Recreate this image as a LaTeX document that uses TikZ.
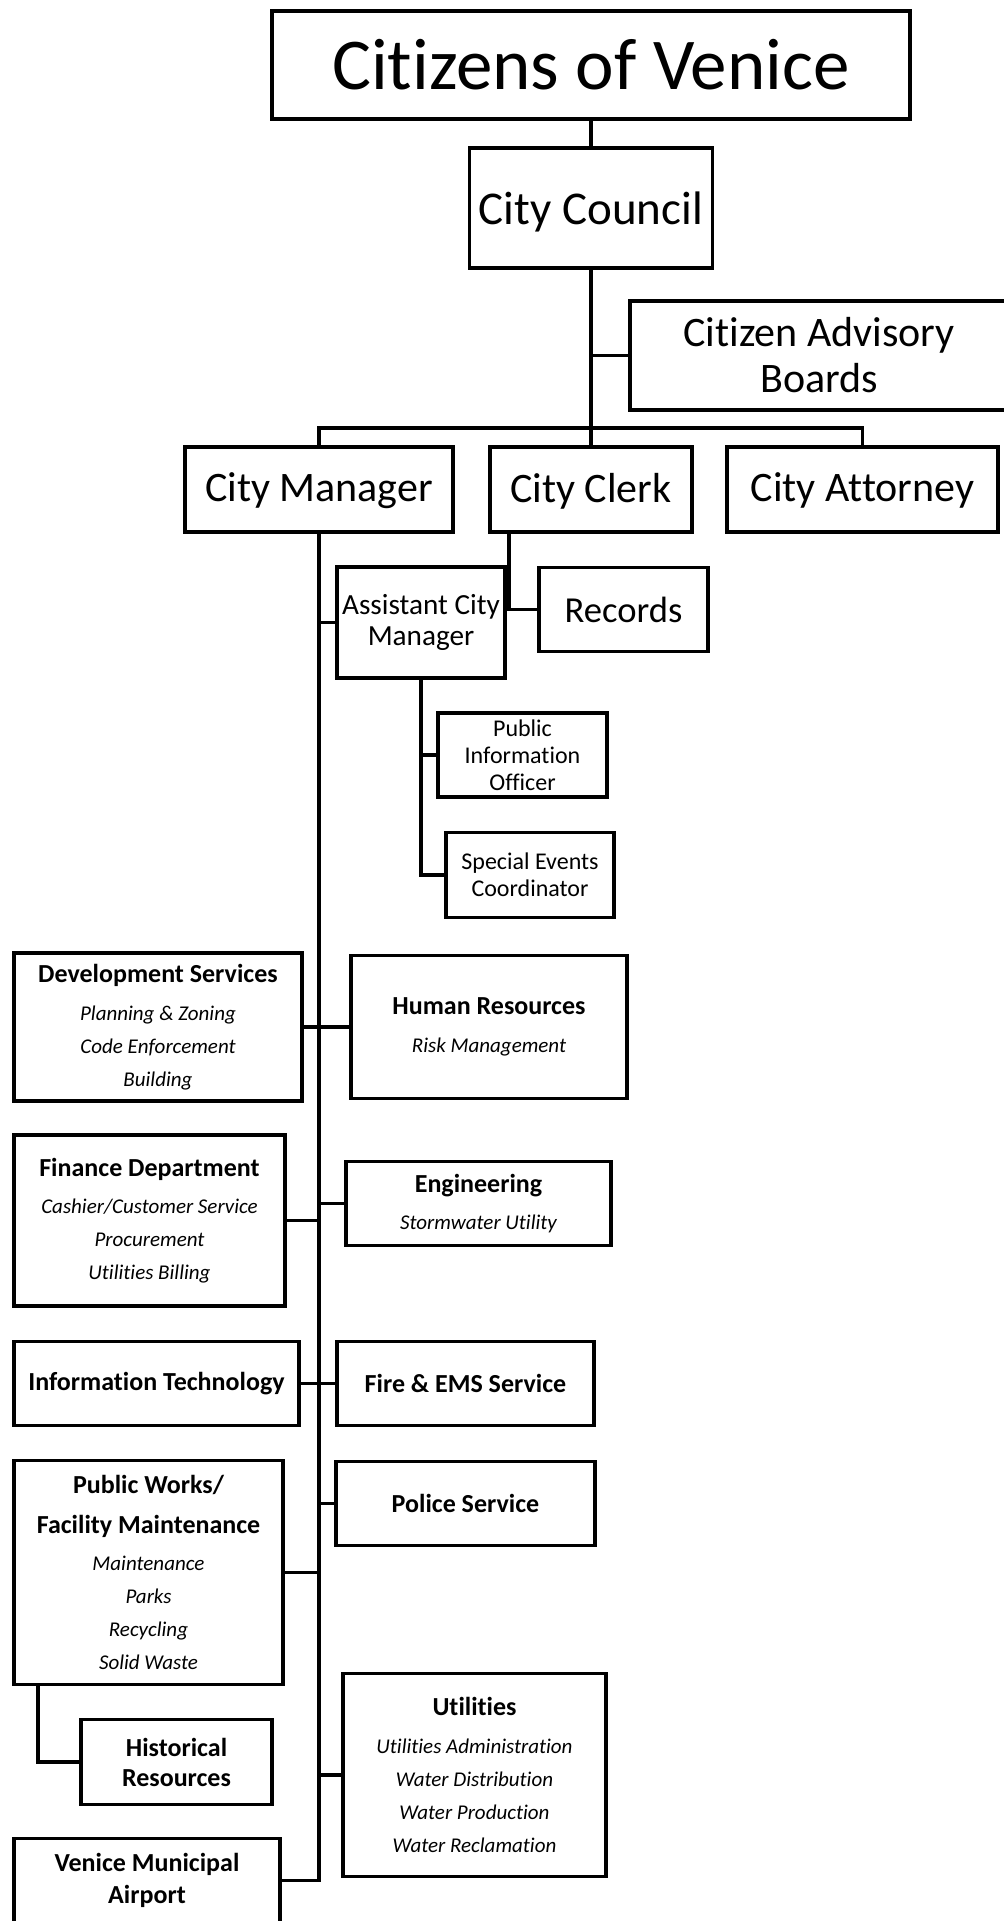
\documentclass[tikz,border=0pt]{standalone}
\usepackage{fontspec}
\setmainfont{Carlito}[Ligatures={NoCommon}]
\usetikzlibrary{positioning}
\tikzstyle{link} = [line width=1.8pt]
\tikzstyle{office} = [
    rectangle, draw=black, line width=1.8pt, align=center, inner sep=0pt
]
\tikzstyle{office_L} = [office, font=\fontsize{21}{23}\selectfont]
\tikzstyle{office_S} = [office, font=\fontsize{12}{13.4}\selectfont]
\tikzstyle{dept} = [office, font=\fontsize{13}{16.5}\selectfont\bfseries]
\newcommand{\unititem}[1]{{\fontsize{10.5}{16.5}\selectfont\mdseries\itshape #1}}

\begin{document}
\begin{tikzpicture}[node distance=60pt]
\useasboundingbox (0,0) rectangle (501.5pt,-960.5pt);

% Topo do organograma
\node (cov) [office, minimum width=319pt, minimum height=54pt, font=\fontsize{36.5}{40}\selectfont] at (295.5pt,-32.5pt) {Citizens of Venice};
\node (cc) [office, below of=cov, yshift=-11.5pt, minimum width=121.5pt, minimum height=60pt, text depth=0pt, font=\fontsize{23.5}{26}\selectfont] {City Council};
\node (cab) [office_L, below of=cc, xshift=114pt, yshift=-13.75pt, minimum width=189pt, minimum height=54.5pt] {Citizen Advisory\\Boards};
\node (clerk) [office_L, below of=cc, yshift=-80.75pt, minimum width=101pt, minimum height=42.5pt, text depth=2pt] {City Clerk};
\node (cm) [office_L, left of=clerk, xshift=-76pt, minimum width=134pt, minimum height=42.5pt, text depth=2pt] {City Manager};
\node (att) [office_L, right of=clerk, xshift=75.75pt, minimum width=135.5pt, minimum height=42.5pt, text depth=2pt] {City Attorney};

% Gerente e secretaria
\node (acm) [office, below of=cm, xshift=51pt, yshift=-6.5pt, minimum width=84pt, minimum height=55.5pt, font=\fontsize{14.6}{15.7}\selectfont] {Assistant City\\Manager};
\node (rec) [office, below of=clerk, xshift=16.25pt, minimum width=84.5pt, minimum height=42pt, font=\fontsize{18.3}{20}\selectfont] {Records};
\node (pio) [office_S, below of=acm, xshift=50.75pt, yshift=-6.25pt, minimum width=84.5pt, minimum height=42pt] {Public\\Information\\Officer};
\node (sec) [office_S, below of=pio, xshift=3.75pt, minimum width=84pt, minimum height=42.5pt] {Special Events\\Coordinator};

% Departamentos
\node (hr) [dept, below of=sec, xshift=-20.5pt, yshift=-16pt, minimum width=138pt, minimum height=71.5pt] {Human Resources\\[2.25pt]\unititem{Risk Management}};
\node (dev) [dept, left of=hr, xshift=-105.5pt, minimum width=144pt, minimum height=74pt] {Development Services\\[2.25pt]\unititem{Planning \& Zoning}\\\unititem{Code Enforcement}\\\unititem{Building}};
\node (eng) [dept, below of=hr, xshift=-5.25pt, yshift=-28.25pt, minimum width=132.5pt, minimum height=42pt] {Engineering\\[2pt]\unititem{Stormwater Utility}};
\node (fin) [dept, below of=dev, xshift=-4.25pt, yshift=-36.75pt, minimum width=135.5pt, minimum height=85.5pt] {Finance Department\\[2.25pt]\unititem{Cashier/Customer Service}\\\unititem{Procurement}\\\unititem{Utilities Billing}};
\node (fire) [dept, below of=eng, xshift=-6.5pt, yshift=-30pt, minimum width=128.5pt, minimum height=42pt] {Fire \& EMS Service};
\node (it) [dept, left of=fire, xshift=-94.5pt, minimum width=142.5pt, minimum height=42pt] {Information Technology};
\node (pol) [dept, below of=fire, minimum width=129.5pt, minimum height=42pt] {Police Service};
\node (pw) [dept, below of=it, xshift=-4pt, yshift=-34.5pt, minimum width=134.5pt, minimum height=112pt] {Public Works/\\[3.5pt]Facility Maintenance\\[2.25pt]\unititem{Maintenance}\\\unititem{Parks}\\\unititem{Recycling}\\\unititem{Solid Waste}};
\node (util) [dept, below of=pol, xshift=4.5pt, yshift=-75.75pt, minimum width=131.5pt, minimum height=101.5pt] {Utilities\\[2.25pt]\unititem{Utilities Administration}\\\unititem{Water Distribution}\\\unititem{Water Production}\\\unititem{Water Reclamation}};
\node (hist) [dept, below of=pw, xshift=14pt, yshift=-34.75pt, minimum width=95.5pt, minimum height=42.5pt] {Historical\\[-1.5pt]Resources};
\node (vma) [dept, below of=hist, xshift=-14.75pt, yshift=0.75pt, minimum width=133pt, minimum height=42pt] {Venice Municipal\\[-0.5pt]Airport};

% Ligacoes do topo
\coordinate (bus) at ([yshift=8.5pt]clerk.north);
\draw [link] (cov) -- (cc);
\draw [link] (cc) -- (bus);
\draw [link] (cab) -- (cab.west -| cc.south);
\draw [link] (cm.north) |- (bus) -| (att.north);
\draw [link] (bus) -- (clerk);
\draw [link] ([xshift=10.5pt]clerk.south west) |- (rec.west);

% Tronco do gerente
\draw [link] (cm.south) -- (cm.south |- vma.east) -- (vma.east);
\draw [link] (acm) -- (acm -| cm.south);
\draw [link] (acm.south) |- (sec.west);
\draw [link] (pio) -- (pio -| acm.south);
\draw [link] (dev) -- (hr);
\draw [link] (fin) -- (fin -| cm.south);
\draw [link] (eng) -- (eng -| cm.south);
\draw [link] (it) -- (fire);
\draw [link] (pol) -- (pol -| cm.south);
\draw [link] (pw) -- (pw -| cm.south);
\draw [link] (util) -- (util -| cm.south);
\draw [link] ([xshift=13pt]pw.south west) |- (hist.west);

\end{tikzpicture}
\end{document}
